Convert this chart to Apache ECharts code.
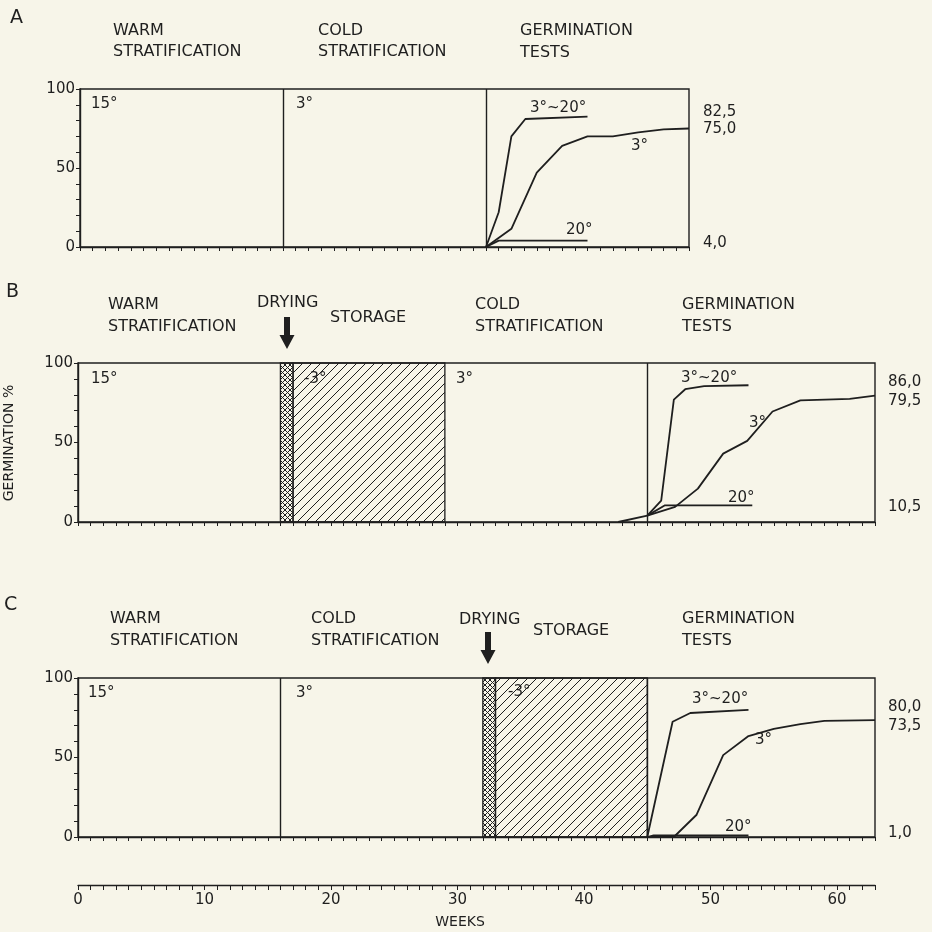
<!DOCTYPE html>
<html>
<head>
<meta charset="utf-8">
<script src="https://cdn.jsdelivr.net/npm/echarts@6.0.0/dist/echarts.min.js"></script>
<style>
  html, body { margin: 0; background: #f7f5e9; }
  #chart { width: 932px; height: 932px; }
</style>
</head>
<body>
<div id="chart"></div>
<script>
  // week positions of the phase boundaries
  const aDividers = [16, 32];
  const bDrying = [16, 17];
  const bStorage = [17, 29];
  const bDividers = [45];
  const cDividers = [16, 45];
  const cDrying = [32, 33];
  const cStorage = [33, 45];

  // germination curves, [week, %]
  const aMix = [[32, 0], [33, 22], [34, 70], [35.1, 81], [40, 82.5]];
  const aCold = [[32, 0], [34, 11.5], [36, 47], [38, 64], [40, 70], [42, 70], [44, 72.5], [46, 74.5], [48, 75]];
  const aWarm = [[32, 0], [33, 4], [40, 4]];

  const bPre = [[42.7, 0], [45, 4]];
  const bMix = [[45, 4], [46.1, 13.5], [47.1, 77], [48, 83.5], [49.5, 85.5], [53, 86]];
  const bCold = [[45, 4], [47.2, 9.5], [49, 21], [51, 43], [52.9, 51], [54.9, 69.5], [57.1, 76.5], [61, 77.5], [63, 79.5]];
  const bWarm = [[45, 4], [46.4, 10.5], [53.3, 10.5]];

  const cMix = [[45, 0], [47, 72.5], [48.4, 78], [53, 80]];
  const cCold = [[45, 0], [47.1, 0], [48.9, 14], [51, 51.5], [53, 63.5], [55, 68], [57.1, 71], [59, 73], [63, 73.5]];
  const cWarm = [[45, 0], [45.5, 1], [53, 1]];

  const aEnd = ['82,5', '75,0', '4,0'];
  const bEnd = ['86,0', '79,5', '10,5'];
  const cEnd = ['80,0', '73,5', '1,0'];

  const ink = '#1f1f1f';
  const font = 'DejaVu Sans';

  function hatch(size, cross) {
    let c = document.createElement('canvas');
    c.width = c.height = size;
    let ctx = c.getContext('2d');
    ctx.strokeStyle = ink;
    ctx.lineWidth = 1;
    let diag = (flip) => {
      for (let k = -1; k <= 1; k++) {
        ctx.beginPath();
        if (!flip) {
          ctx.moveTo(k * size - 1, size + 1);
          ctx.lineTo(k * size + size + 1, -1);
        } else {
          ctx.moveTo(k * size - 1, -1);
          ctx.lineTo(k * size + size + 1, size + 1);
        }
        ctx.stroke();
      }
    };
    diag(false);
    if (cross) diag(true);
    return { image: c, repeat: 'repeat' };
  }

  const storageFill = hatch(9, false);
  const dryingFill = hatch(5, true);

  let myChart = echarts.init(document.getElementById('chart'));

  let grids = [
    { left: 80, right: 243, top: 89, height: 158 },
    { left: 78, right: 57, top: 363, height: 159 },
    { left: 78, right: 57, top: 678, height: 159 },
    { left: 78, right: 57, top: 884, height: 1 }
  ].map(g => Object.assign({
    show: true, borderColor: ink, borderWidth: 1.4, backgroundColor: 'transparent'
  }, g));
  grids[3].show = false;

  let xAxisTpl = {
    type: 'value', min: 0, interval: 1,
    axisLine: { lineStyle: { color: ink, width: 1.4 } },
    axisTick: { length: 4, lineStyle: { color: ink } },
    axisLabel: { show: false },
    splitLine: { show: false }
  };
  let xAxes = [48, 63, 63, 63].map((max, i) => Object.assign({}, xAxisTpl, { gridIndex: i, max: max }));
  xAxes[3].axisLabel = {
    show: true, color: ink, fontFamily: font, fontSize: 15, margin: 8,
    formatter: v => (v % 10 === 0 ? String(v) : '')
  };
  xAxes[3].axisTick = { length: 5, lineStyle: { color: ink } };

  let yAxes = [0, 1, 2].map(i => ({
    type: 'value', gridIndex: i, min: 0, max: 100, interval: 10,
    axisLine: { show: true, lineStyle: { color: ink, width: 1.4 } },
    axisTick: { show: true, length: 4, lineStyle: { color: ink } },
    axisLabel: {
      color: ink, fontFamily: font, fontSize: 15, margin: 5,
      formatter: v => (v % 50 === 0 ? String(v) : '')
    },
    splitLine: { show: false }
  }));
  yAxes.push({ type: 'value', gridIndex: 3, show: false, min: 0, max: 1 });

  function curve(data, idx, extra) {
    return Object.assign({
      type: 'line', data: data, xAxisIndex: idx, yAxisIndex: idx,
      symbol: 'none', silent: true,
      lineStyle: { color: ink, width: 1.8 }
    }, extra || {});
  }

  function dividers(list) {
    return {
      silent: true, symbol: ['none', 'none'], label: { show: false },
      lineStyle: { color: ink, width: 1.4, type: 'solid' },
      data: list.map(w => ({ xAxis: w }))
    };
  }

  function areas(drying, storage) {
    return {
      silent: true,
      data: [
        [{ xAxis: drying[0], itemStyle: { color: dryingFill, borderColor: ink, borderWidth: 1.3, opacity: 1 } }, { xAxis: drying[1] }],
        [{ xAxis: storage[0], itemStyle: { color: storageFill, borderColor: ink, borderWidth: 1.3, opacity: 1 } }, { xAxis: storage[1] }]
      ]
    };
  }

  let series = [
    curve(aMix, 0, { markLine: dividers(aDividers) }),
    curve(aCold, 0),
    curve(aWarm, 0),
    curve(bPre, 1, { markLine: dividers(bDividers), markArea: areas(bDrying, bStorage) }),
    curve(bMix, 1),
    curve(bCold, 1),
    curve(bWarm, 1),
    curve(cMix, 2, { markLine: dividers(cDividers), markArea: areas(cDrying, cStorage) }),
    curve(cCold, 2),
    curve(cWarm, 2)
  ];

  function txt(x, y, text, size, align, extra) {
    return Object.assign({
      type: 'text', x: x, y: y, silent: true,
      style: {
        text: text, fill: ink, font: (size || 15) + 'px "' + font + '"',
        textAlign: align || 'left', textVerticalAlign: 'middle'
      }
    }, extra || {});
  }

  function header(x, y1, y2, l1, l2) {
    let out = [txt(x, y1, l1, 16)];
    if (l2) out.push(txt(x, y2, l2, 16));
    return out;
  }

  function arrow(cx, top) {
    return {
      type: 'polygon', silent: true,
      shape: { points: [[cx - 3, top], [cx + 3, top], [cx + 3, top + 18], [cx + 7.5, top + 18], [cx, top + 32], [cx - 7.5, top + 18], [cx - 3, top + 18]] },
      style: { fill: ink }
    };
  }

  let graphics = [].concat(
    // panel A
    [txt(10, 18, 'A', 19)],
    header(113, 31, 52, 'WARM', 'STRATIFICATION'),
    header(318, 31, 52, 'COLD', 'STRATIFICATION'),
    header(520, 31, 53, 'GERMINATION', 'TESTS'),
    [txt(91, 104, '15°'), txt(296, 104, '3°'),
     txt(530, 108, '3°~20°'), txt(631, 146, '3°'), txt(566, 230, '20°'),
     txt(703, 112, aEnd[0]), txt(703, 129, aEnd[1]), txt(703, 243, aEnd[2])],
    // panel B
    [txt(6, 292, 'B', 19)],
    header(108, 305, 327, 'WARM', 'STRATIFICATION'),
    [txt(257, 303, 'DRYING', 16), txt(330, 318, 'STORAGE', 16), arrow(287, 317)],
    header(475, 305, 327, 'COLD', 'STRATIFICATION'),
    header(682, 305, 327, 'GERMINATION', 'TESTS'),
    [txt(91, 379, '15°'), txt(304, 379, '-3°'), txt(456, 379, '3°'),
     txt(681, 378, '3°~20°'), txt(749, 423, '3°'), txt(728, 498, '20°'),
     txt(888, 382, bEnd[0]), txt(888, 401, bEnd[1]), txt(888, 507, bEnd[2])],
    // panel C
    [txt(4, 605, 'C', 19)],
    header(110, 619, 641, 'WARM', 'STRATIFICATION'),
    header(311, 619, 641, 'COLD', 'STRATIFICATION'),
    [txt(459, 620, 'DRYING', 16), txt(533, 631, 'STORAGE', 16), arrow(488, 632)],
    header(682, 619, 641, 'GERMINATION', 'TESTS'),
    [txt(88, 693, '15°'), txt(296, 693, '3°'), txt(508, 692, '-3°'),
     txt(692, 699, '3°~20°'), txt(755, 740, '3°'), txt(725, 827, '20°'),
     txt(888, 707, cEnd[0]), txt(888, 726, cEnd[1]), txt(888, 833, cEnd[2])],
    // axis names
    [txt(460, 922, 'WEEKS', 14, 'center'),
     txt(9, 443, 'GERMINATION %', 14, 'center', { rotation: Math.PI / 2 })]
  );

  myChart.setOption({
    animation: false,
    backgroundColor: '#f7f5e9',
    grid: grids,
    xAxis: xAxes,
    yAxis: yAxes,
    series: series,
    graphic: graphics
  });
</script>
</body>
</html>
